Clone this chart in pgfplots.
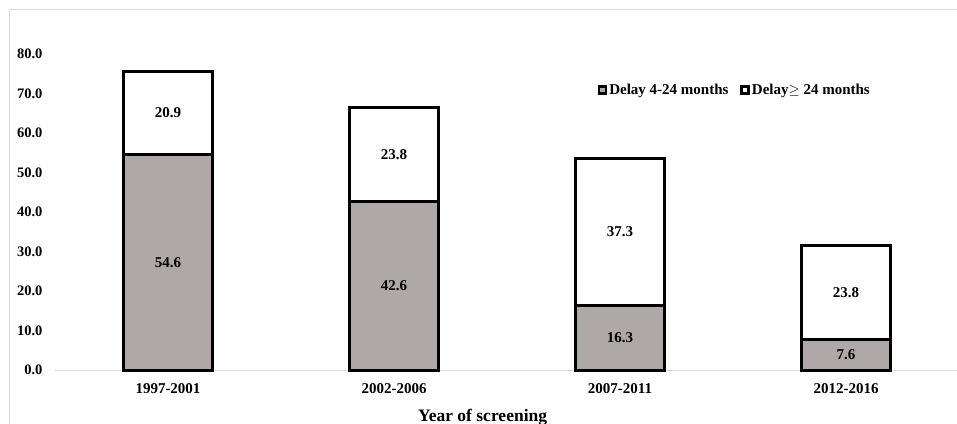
\documentclass[border=0pt]{standalone}
\usepackage{fontspec}
\setmainfont{Liberation Serif}
\usepackage{pgfplots}
\pgfplotsset{compat=1.18}
\definecolor{bargray}{HTML}{AEA9A8}
\definecolor{framegray}{HTML}{D9D9D9}
\newcommand{\fs}[1]{\fontsize{#1}{#1}\selectfont\bfseries}
\begin{document}
\begin{tikzpicture}[x=1pt,y=1pt]
\path[use as bounding box] (0,0) rectangle (957,423);
\draw[framegray, line width=1pt] (9,-10) -- (9,413) -- (970,413);
\begin{axis}[
  at={(55pt,53pt)}, anchor=south west,
  scale only axis, width=904pt, height=316pt,
  xmin=-0.5, xmax=3.5, ymin=0, ymax=80,
  ybar stacked, bar width=89pt,
  xtick={0,1,2,3}, xticklabels={1997-2001,2002-2006,2007-2011,2012-2016},
  ytick={0,10,...,80},
  major tick length=0pt,
  axis x line*=bottom, axis y line*=left,
  x axis line style={draw=framegray, line width=1pt, -},
  y axis line style={draw=none},
  /pgf/number format/fixed, /pgf/number format/zerofill,
  /pgf/number format/precision=1, /pgf/number format/assume math mode=true,
  yticklabel style={font=\fs{14.5}, xshift=-9pt},
  xticklabel style={font=\fs{15}, yshift=-10pt},
  xlabel={Year of screening},
  xlabel style={font=\fs{17.5}, at={(axis description cs:0.473,-0.162)}, anchor=base},
  legend style={draw=none, fill=none, at={(0.752,0.886)}, anchor=center,
    legend columns=2, font=\fs{15},
    /tikz/every even column/.append style={column sep=10pt}},
  legend image code/.code={\draw[#1, line width=2.5pt] (0pt,-3.5pt) rectangle (7pt,3.5pt);},
  nodes near coords,
  point meta=rawy,
  every node near coord/.append style={anchor=center, font=\fs{15}, text=black},
  clip=false,
]
\addplot[fill=bargray, draw=black, line width=3pt] coordinates {(0,54.6) (1,42.6) (2,16.3) (3,7.6)};
\addplot[fill=white, draw=black, line width=3pt] coordinates {(0,20.9) (1,23.8) (2,37.3) (3,23.8)};
\legend{Delay 4-24 months, Delay$\geq$ 24 months}
\end{axis}
\end{tikzpicture}
\end{document}
